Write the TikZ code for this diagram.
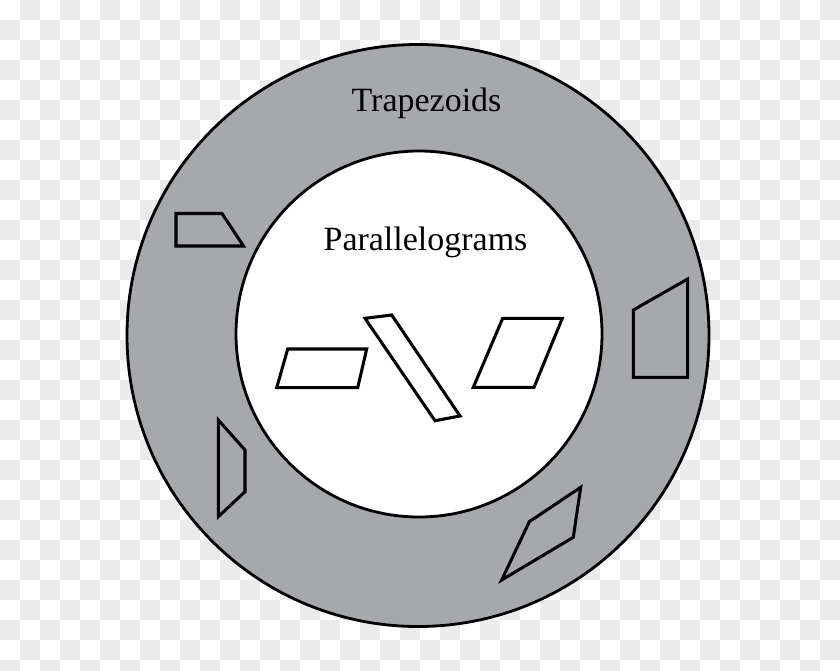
\documentclass[tikz,border=0pt]{standalone}
\usepackage{fontspec}
\setmainfont{Liberation Serif}
\definecolor{ringgray}{RGB}{167,168,172}
\definecolor{checkgray}{RGB}{235,235,235}

\begin{document}
\begin{tikzpicture}[x=0.03cm, y=0.03cm]
\tikzstyle{every node}+=[inner sep=0pt]
\tikzstyle{quad}=[black, line width=2.6pt, line join=miter]
\tikzstyle{ring}=[black, line width=2.4pt]
\tikzstyle{setlabel}=[anchor=base, font=\fontsize{29}{34}\selectfont]
\useasboundingbox (0,0) rectangle (840,-670);
\fill [white] (0,0) rectangle (840,-670);
\foreach \i in {0,...,41}
  \foreach \j in {0,...,33}
  { \ifodd\numexpr\i+\j\relax
      \fill [checkgray] (20*\i,-20*\j) rectangle (20*\i+20,-20*\j-20);
    \fi }
\draw [ring, fill=ringgray] (418,-335.5) circle (291);
\draw [ring, fill=white] (419,-334) circle (183);
\node [setlabel] (trap) at (426.5,-111.7) {Trapezoids};
\node [setlabel] (para) at (425.5,-250.5) {Parallelograms};
\draw [quad] (176,-213.5) -- (222,-213.5) -- (243.5,-246) -- (176,-246) -- cycle;
\draw [quad] (633.3,-310) -- (687.7,-279) -- (687.7,-377.3) -- (633.3,-377.3) -- cycle;
\draw [quad] (218.3,-420) -- (245,-450) -- (245,-491.7) -- (218.3,-516.7) -- cycle;
\draw [quad] (580.7,-487.3) -- (573.3,-537.3) -- (501.7,-580) -- (529.3,-521.7) -- cycle;
\draw [quad] (287.7,-349) -- (366.7,-349) -- (357.7,-387.7) -- (276.7,-387.7) -- cycle;
\draw [quad] (365,-318.3) -- (391.7,-315) -- (460,-416) -- (435,-420.7) -- cycle;
\draw [quad] (502.7,-318.3) -- (562.3,-318.3) -- (534,-387.3) -- (473.3,-387.3) -- cycle;
\end{tikzpicture}
\end{document}
